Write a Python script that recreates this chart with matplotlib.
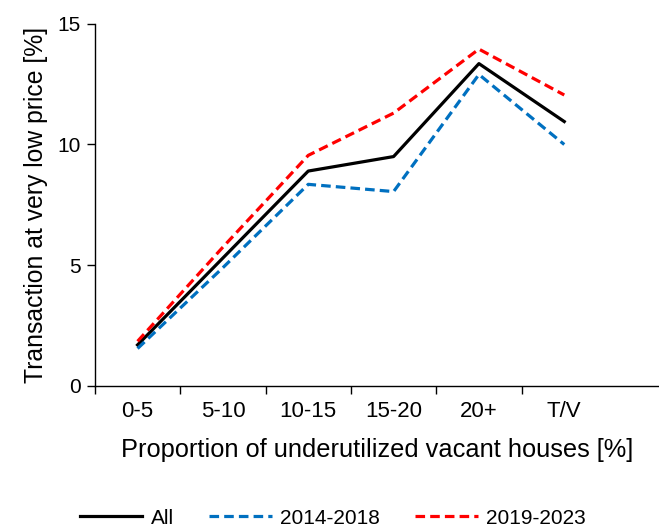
import matplotlib
matplotlib.use("Agg")
import matplotlib.pyplot as plt
import numpy as np

plt.rcParams['font.family'] = ['Liberation Sans', 'DejaVu Sans']

categories = ['0-5', '5-10', '10-15', '15-20', '20+', 'T/V']
all_vals = [1.7, 5.3, 8.9, 9.5, 13.35, 10.95]
vals_2014_2018 = [1.55, 4.9, 8.35, 8.05, 12.9, 10.0]
vals_2019_2023 = [1.85, 5.75, 9.55, 11.3, 13.95, 12.05]

fig = plt.figure(figsize=(6.59, 5.28), dpi=100)
ax = fig.add_axes([0.144, 0.269, 0.856, 0.686])

x = np.arange(len(categories))
ax.plot(x, all_vals, color='black', lw=2.3, label='All')
ax.plot(x, vals_2014_2018, color='#0070C0', lw=2.3, ls=(0, (3, 1.6)), label='2014-2018')
ax.plot(x, vals_2019_2023, color='#FF0000', lw=2.3, ls=(0, (3, 1.6)), label='2019-2023')

ax.set_ylim(0, 15)
ax.set_yticks([0, 5, 10, 15])
ax.set_xlim(-0.5, 6.11)
ax.set_xticks(x)
ax.set_xticklabels(categories)
ax.tick_params(axis='x', length=0, pad=11, labelsize=16)
ax.set_xticks(np.arange(-0.5, 5.0, 1.0), minor=True)
ax.tick_params(axis='x', which='minor', length=6, width=1, direction='out')
ax.tick_params(axis='y', length=6, width=1, direction='out', labelsize=15, pad=4)
for sp in ['top', 'right']:
    ax.spines[sp].set_visible(False)
ax.spines['left'].set_linewidth(1)
ax.spines['bottom'].set_linewidth(1)

ax.set_xlabel('Proportion of underutilized vacant houses [%]', fontsize=18.3, labelpad=11)
ax.set_ylabel('Transaction at very low price [%]', fontsize=17.8, labelpad=7)

fig.legend(loc='lower center', bbox_to_anchor=(0.505, -0.035), ncol=3, frameon=False,
           fontsize=15, handlelength=3.0, columnspacing=1.7, handletextpad=0.4)

fig.savefig('out.png', dpi=100)
